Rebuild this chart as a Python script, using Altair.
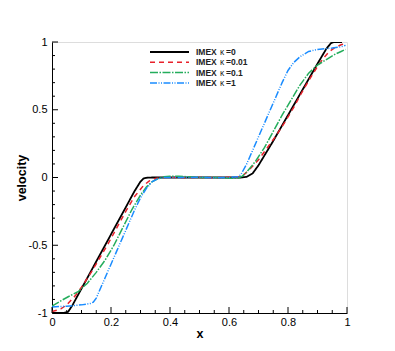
import altair as alt
import pandas as pd

# ---------------- data ----------------
x_k0 = [0.0, 0.04, 0.055, 0.07, 0.10, 0.15, 0.20, 0.25, 0.28, 0.30, 0.31, 0.32, 0.34, 0.50,
        0.64, 0.66, 0.68, 0.70, 0.75, 0.80, 0.85, 0.90, 0.93, 0.945, 0.955, 0.983]
y_k0 = [-1.0, -1.0, -0.99, -0.94, -0.82, -0.62, -0.42, -0.22, -0.10, -0.03, -0.008, -0.002, 0.0, 0.0,
        0.0, 0.005, 0.03, 0.09, 0.27, 0.46, 0.65, 0.84, 0.95, 0.99, 1.0, 1.0]

x_k001 = [0.0, 0.03, 0.05, 0.08, 0.10, 0.13, 0.16, 0.19, 0.22, 0.25, 0.28, 0.31, 0.33, 0.35, 0.37,
          0.40, 0.45, 0.50, 0.55, 0.60, 0.63, 0.65, 0.67, 0.70, 0.73, 0.76, 0.79, 0.82, 0.85, 0.88,
          0.90, 0.92, 0.94, 0.96, 0.98, 0.995]
y_k001 = [-0.99, -0.97, -0.94, -0.87, -0.81, -0.71, -0.60, -0.49, -0.37, -0.25, -0.14, -0.06, -0.025, -0.008, 0.0,
          0.003, -0.002, 0.002, -0.002, 0.002, 0.003, 0.02, 0.06, 0.13, 0.22, 0.31, 0.41, 0.52, 0.64, 0.75,
          0.82, 0.88, 0.93, 0.96, 0.98, 0.99]

x_k01 = [0.0, 0.03, 0.055, 0.09, 0.12, 0.15, 0.18, 0.21, 0.24, 0.27, 0.30, 0.32, 0.34, 0.36, 0.38,
         0.40, 0.43, 0.46, 0.50, 0.55, 0.60, 0.63, 0.645, 0.66, 0.69, 0.72, 0.75, 0.78, 0.81, 0.84,
         0.87, 0.90, 0.93, 0.96, 0.98, 0.995]
y_k01 = [-0.95, -0.91, -0.88, -0.84, -0.78, -0.70, -0.61, -0.50, -0.37, -0.24, -0.13, -0.07, -0.03, -0.008, 0.005,
         0.01, 0.01, 0.005, 0.0, 0.0, -0.005, -0.005, 0.01, 0.04, 0.12, 0.22, 0.34, 0.46, 0.57, 0.68,
         0.77, 0.83, 0.87, 0.91, 0.93, 0.945]

x_k1 = [0.0, 0.05, 0.10, 0.13, 0.14, 0.15, 0.16, 0.18, 0.20, 0.22, 0.24, 0.26, 0.28, 0.30, 0.32,
        0.34, 0.36, 0.38, 0.45, 0.50, 0.55, 0.60, 0.63, 0.64, 0.66, 0.68, 0.70, 0.72, 0.74, 0.76,
        0.78, 0.80, 0.82, 0.84, 0.87, 0.90, 0.95, 0.98, 0.995]
y_k1 = [-0.955, -0.95, -0.94, -0.93, -0.92, -0.89, -0.84, -0.74, -0.64, -0.54, -0.44, -0.34, -0.24, -0.15, -0.08,
        -0.03, -0.008, 0.0, 0.0, 0.002, -0.002, 0.0, 0.005, 0.02, 0.10, 0.20, 0.30, 0.40, 0.50, 0.60,
        0.70, 0.79, 0.85, 0.89, 0.93, 0.945, 0.955, 0.965, 0.975]

series_names = ["κ=0", "κ=0.01", "κ=0.1", "κ=1"]
series_x = [x_k0, x_k001, x_k01, x_k1]
series_y = [y_k0, y_k001, y_k01, y_k1]
series_colors = ["#000000", "#e8212b", "#24ad5c", "#1a8cff"]
series_dash = [[1, 0], [5, 4], [8, 1.5, 1.5, 1.5], [7, 1.5, 1, 1.5, 1, 1.5]]
series_width = [1.8, 1.5, 1.5, 1.5]

x_major = [0, 0.2, 0.4, 0.6, 0.8, 1]
x_minor = [0.05, 0.1, 0.15, 0.25, 0.3, 0.35, 0.45, 0.5, 0.55, 0.65, 0.7, 0.75, 0.85, 0.9, 0.95]
y_major = [-1, -0.5, 0, 0.5, 1]
y_minor = [-0.9, -0.8, -0.7, -0.6, -0.4, -0.3, -0.2, -0.1, 0.1, 0.2, 0.3, 0.4, 0.6, 0.7, 0.8, 0.9]

# ---------------- chart ----------------
W, H = 295, 271
FONT = "Liberation Sans"

xs = alt.Scale(domain=[0, 1], nice=False, zero=False)
ys = alt.Scale(domain=[-1, 1], nice=False, zero=False)

xaxis = alt.Axis(values=x_major, labelExpr="'' + datum.value", ticks=False, grid=False,
                 domainColor="black", domainWidth=1, labelFont=FONT, labelFontSize=11,
                 labelColor="black", labelFlush=False, labelOverlap=False, labelPadding=3,
                 title="x", titleFont=FONT, titleFontSize=12.5, titleFontWeight="bold",
                 titleColor="black", titlePadding=0)
yaxis = alt.Axis(values=y_major, labelExpr="'' + datum.value", ticks=False, grid=False,
                 domainColor="black", domainWidth=1, labelFont=FONT, labelFontSize=11,
                 labelColor="black", labelFlush=False, labelOverlap=False, labelPadding=5,
                 title="velocity", titleFont=FONT, titleFontSize=12.5, titleFontWeight="bold",
                 titleColor="black", titlePadding=0)

X = alt.X("x:Q", scale=xs, axis=xaxis)
Y = alt.Y("y:Q", scale=ys, axis=yaxis)

layers = []
for name, xv, yv, col, dash, sw in zip(series_names, series_x, series_y, series_colors,
                                         series_dash, series_width):
    df = pd.DataFrame({"x": xv, "y": yv})
    layers.append(
        alt.Chart(df).mark_line(color=col, strokeDash=dash, strokeWidth=sw, clip=True)
        .encode(x=X, y=Y, order="x:Q")
    )

# inward ticks
def xticks(vals, ln):
    return alt.Chart(pd.DataFrame({"x": vals})).mark_rule(color="black", strokeWidth=1).encode(
        x=X, y=alt.value(H), y2=alt.value(H - ln))

def yticks(vals, ln):
    return alt.Chart(pd.DataFrame({"y": vals})).mark_rule(color="black", strokeWidth=1).encode(
        y=Y, x=alt.value(0), x2=alt.value(ln))

layers += [xticks(x_major, 6), xticks(x_minor, 3), yticks(y_major, 6), yticks(y_minor, 3)]

# custom legend
one = pd.DataFrame({"a": [0]})
leg_y0, leg_dy = 10, 10.3
for i, (name, col, dash, sw) in enumerate(zip(series_names, series_colors, series_dash, series_width)):
    yy = leg_y0 + i * leg_dy
    layers.append(alt.Chart(one).mark_rule(color=col, strokeDash=dash, strokeWidth=sw).encode(
        x=alt.value(98), x2=alt.value(137), y=alt.value(yy)))
    layers.append(alt.Chart(one).mark_text(text="IMEX", font=FONT, fontSize=8.5, fontWeight="bold",
                                           align="left", baseline="middle", color="#222222").encode(
        x=alt.value(144), y=alt.value(yy)))
    layers.append(alt.Chart(one).mark_text(text="κ", font=FONT, fontSize=8.5,
                                           align="left", baseline="middle", color="#222222").encode(
        x=alt.value(168), y=alt.value(yy)))
    layers.append(alt.Chart(one).mark_text(text=name[1:], font=FONT, fontSize=8.5, fontWeight="bold",
                                           align="left", baseline="middle", color="#222222").encode(
        x=alt.value(174), y=alt.value(yy)))

chart = alt.layer(*layers).properties(
    width=W, height=H,
    padding={"left": 44, "top": 34, "right": 40, "bottom": 30},
    autosize="none",
).configure_view(stroke=None).configure(background="white")

chart.save("out.html", embed_options={"renderer": "svg", "actions": False})
